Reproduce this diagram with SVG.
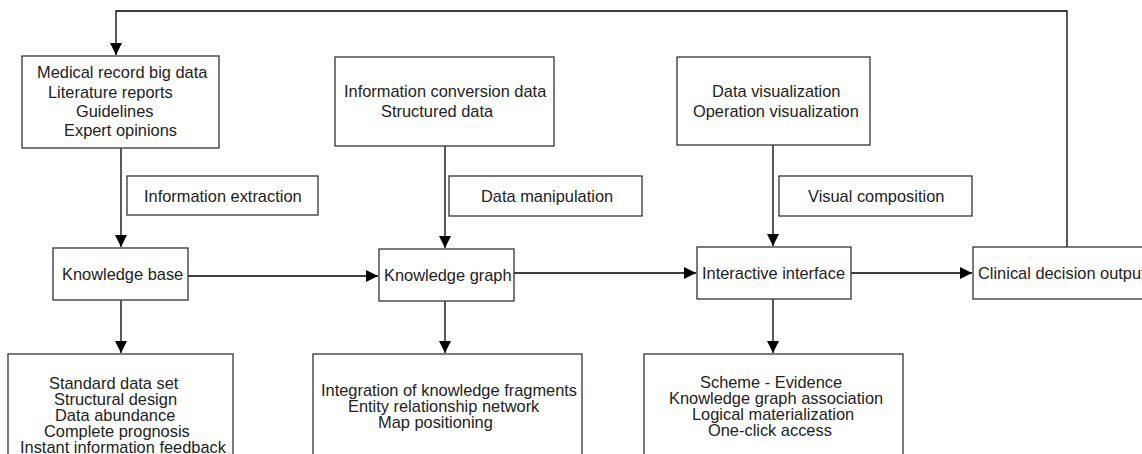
<svg xmlns="http://www.w3.org/2000/svg" width="1142" height="454" viewBox="0 0 1142 454">
<style>
rect.box{fill:#fff;stroke:#333;stroke-width:1.3}
text{font-family:"Liberation Sans",Arial,sans-serif;font-size:16.4px;fill:#222}
.conn path{fill:none;stroke:#000;stroke-width:1.3}
</style>
<defs>
<marker id="ah" markerUnits="userSpaceOnUse" markerWidth="12" markerHeight="12" viewBox="0 0 10 10" refX="10" refY="5" orient="auto">
<path d="M0,0 L10,5 L0,10 Z" fill="#000"/>
</marker>
</defs>
<rect width="1142" height="454" fill="#fff"/>
<g class="conn">
<path d="M1067,247 V11 H116 V55" marker-end="url(#ah)"/>
<path d="M121,148 V247" marker-end="url(#ah)"/>
<path d="M445,146 V248" marker-end="url(#ah)"/>
<path d="M773,145 V246" marker-end="url(#ah)"/>
<path d="M188,276 H378" marker-end="url(#ah)"/>
<path d="M514,273 H696" marker-end="url(#ah)"/>
<path d="M851,273 H972" marker-end="url(#ah)"/>
<path d="M121,300 V353" marker-end="url(#ah)"/>
<path d="M445,301 V353" marker-end="url(#ah)"/>
<path d="M773,299 V353" marker-end="url(#ah)"/>
</g>
<g id="sources">
<rect class="box" x="22" y="56" width="197" height="92"/>
<text x="37" y="78">Medical record big data</text>
<text x="48" y="97.5">Literature reports</text>
<text x="76" y="117">Guidelines</text>
<text x="64" y="136">Expert opinions</text>
</g>
<g id="conversion">
<rect class="box" x="335" y="57" width="219" height="89"/>
<text x="344" y="97">Information conversion data</text>
<text x="381" y="116.5">Structured data</text>
</g>
<g id="visualization">
<rect class="box" x="677" y="57" width="193" height="88"/>
<text x="712" y="97">Data visualization</text>
<text x="693" y="116.5">Operation visualization</text>
</g>
<g id="label-extraction">
<rect class="box" x="127" y="176" width="191" height="39"/>
<text x="144" y="202">Information extraction</text>
</g>
<g id="label-manipulation">
<rect class="box" x="449" y="176" width="193" height="40"/>
<text x="481" y="202">Data manipulation</text>
</g>
<g id="label-composition">
<rect class="box" x="779" y="176" width="193" height="40"/>
<text x="808" y="202">Visual composition</text>
</g>
<g id="knowledge-base">
<rect class="box" x="53" y="248" width="135" height="52"/>
<text x="62" y="280">Knowledge base</text>
</g>
<g id="knowledge-graph">
<rect class="box" x="379" y="249" width="135" height="52"/>
<text x="384" y="280.5">Knowledge graph</text>
</g>
<g id="interactive-interface">
<rect class="box" x="697" y="247" width="154" height="52"/>
<text x="702" y="278.5">Interactive interface</text>
</g>
<g id="clinical-output">
<rect class="box" x="973" y="247" width="190" height="52"/>
<text x="978" y="278.5">Clinical decision output</text>
</g>
<g id="kb-details">
<rect class="box" x="8" y="354" width="225" height="120"/>
<text x="49" y="388.5">Standard data set</text>
<text x="54" y="404.5">Structural design</text>
<text x="55" y="420.5">Data abundance</text>
<text x="44" y="436.5">Complete prognosis</text>
<text x="20" y="452.5">Instant information feedback</text>
</g>
<g id="kg-details">
<rect class="box" x="313" y="354" width="269" height="120"/>
<text x="321" y="395.5">Integration of knowledge fragments</text>
<text x="348" y="411.8">Entity relationship network</text>
<text x="378" y="428.2">Map positioning</text>
</g>
<g id="ii-details">
<rect class="box" x="644" y="354" width="259" height="120"/>
<text x="700" y="387.5">Scheme - Evidence</text>
<text x="669" y="403.5">Knowledge graph association</text>
<text x="692" y="419.7">Logical materialization</text>
<text x="708" y="436">One-click access</text>
</g>
</svg>
